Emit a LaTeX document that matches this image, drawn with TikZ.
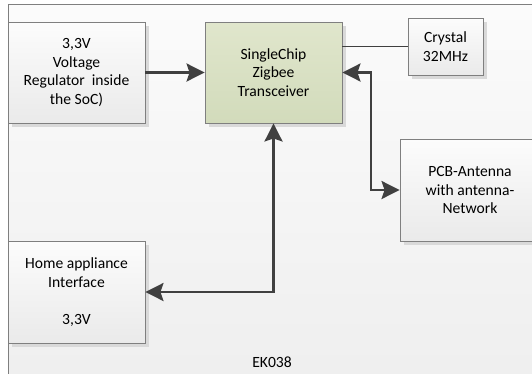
\documentclass[tikz,border=0pt]{standalone}
\usepackage{fontspec}
\setmainfont{Carlito}
\usetikzlibrary{arrows.meta,shadows}
\definecolor{edge}{HTML}{7F7F7F}
\definecolor{wire}{HTML}{404040}
\definecolor{boxtop}{HTML}{FCFCFC}
\definecolor{boxbot}{HTML}{EAEAEA}
\definecolor{zigtop}{HTML}{E0E6CC}
\definecolor{zigbot}{HTML}{D2DBBB}
\definecolor{frametop}{HTML}{FBFBFB}
\definecolor{framebot}{HTML}{EEEEEE}
\definecolor{shadowc}{HTML}{D9D9D9}
\begin{document}
\begin{tikzpicture}[x=1pt,y=-1pt,
  blockbox/.style={draw=edge,line width=0.9pt,top color=boxtop,bottom color=boxbot,
    align=center,inner sep=2pt,
    font=\fontsize{15.6}{18.8}\selectfont,
    drop shadow={shadow xshift=3.5pt,shadow yshift=-3.5pt,fill=shadowc,opacity=1}},
  zigbox/.style={blockbox,top color=zigtop,bottom color=zigbot},
  conn/.style={draw=wire,line width=2.6pt,
    arrows={Stealth[length=18pt,width=18pt,inset=3pt]-Stealth[length=18pt,width=18pt,inset=3pt]}},
  conn1/.style={draw=wire,line width=2.6pt,
    arrows={-Stealth[length=18pt,width=18pt,inset=3pt]}},
  thin/.style={draw=wire,line width=1pt}]
\useasboundingbox (0,0) rectangle (532,373);
\clip (0,0) rectangle (532,373);
\draw[draw=edge,line width=1pt,top color=frametop,bottom color=framebot] (8.5,4) rectangle (560,400);
\node[blockbox,minimum width=137pt,minimum height=101pt] (volt) at (76.5,72.5)
  {3,3V\\Voltage\\Regulator~ inside\\the SoC)};
\node[zigbox,minimum width=137pt,minimum height=101pt] (zig) at (273.5,72.5)
  {SingleChip\\Zigbee\\Transceiver};
\node[blockbox,minimum width=75pt,minimum height=57pt] (crys) at (445.5,46.5)
  {Crystal\\32MHz};
\node[blockbox,minimum width=140pt,minimum height=102pt] (pcb) at (470,190)
  {PCB-Antenna\\with antenna-\\Network};
\node[blockbox,minimum width=137pt,minimum height=102pt] (home) at (76.5,292)
  {Home appliance\\Interface\\\mbox{}\\3,3V};
\node[font=\fontsize{15.6}{18.8}\selectfont] (ek) at (272,362) {EK038};
\draw[conn1] (volt.east) -- (zig.west);
\draw[thin] (crys.west) -- (crys.west -| zig.east);
\coordinate (bend) at (371,72.5);
\draw[conn] (zig.east) -- (bend) |- (pcb.west);
\draw[conn] (zig.south) |- (home.east);
\end{tikzpicture}
\end{document}
